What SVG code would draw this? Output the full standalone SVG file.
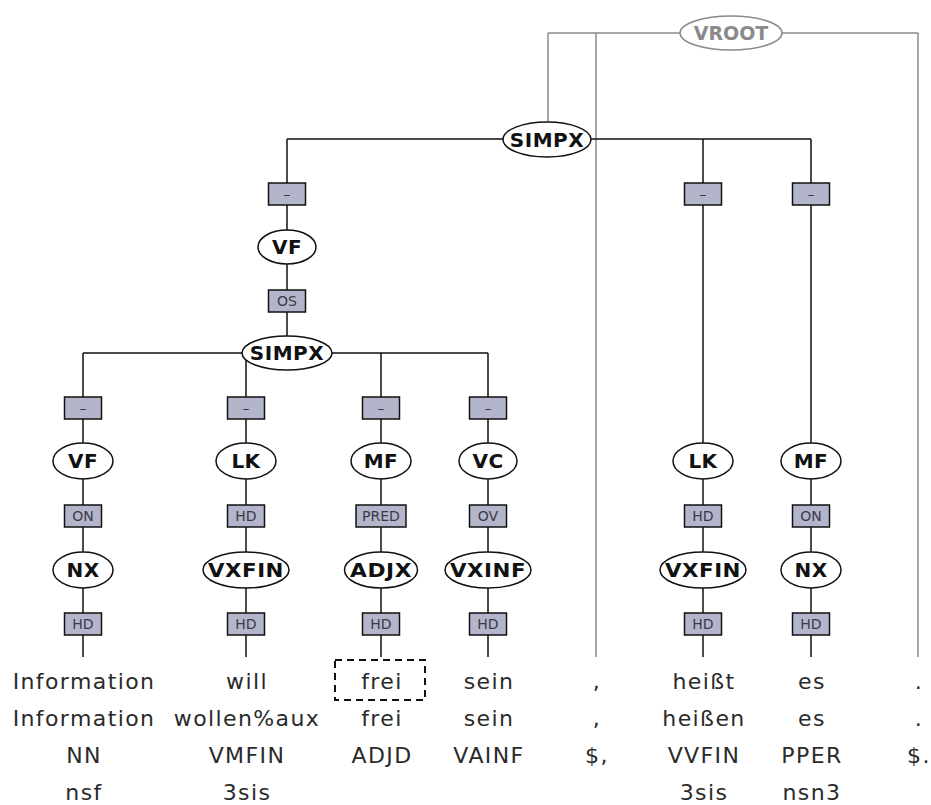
<svg xmlns="http://www.w3.org/2000/svg" width="931" height="805" viewBox="0 0 931 805">
  <style>
    .edge { stroke: #111; stroke-width: 1.5; fill: none; }
    .vedge { stroke: #8a8a8a; stroke-width: 1.5; fill: none; }
    .node ellipse { fill: #fff; stroke: #111; stroke-width: 1.5; }
    .node text { font-family: "DejaVu Sans", sans-serif; font-weight: bold; font-size: 20px; letter-spacing: 0.5px; fill: #111; text-anchor: middle; }
    .vroot ellipse { fill: #fff; stroke: #8a8a8a; stroke-width: 1.5; }
    .vroot text { font-family: "DejaVu Sans", sans-serif; font-weight: bold; font-size: 19px; fill: #8a8a8a; text-anchor: middle; }
    .lab rect { fill: #b3b5cb; stroke: #111; stroke-width: 1.5; }
    .lab text { font-family: "DejaVu Sans", sans-serif; font-size: 14px; fill: #3a3a48; text-anchor: middle; }
    .term text { font-family: "DejaVu Sans", sans-serif; font-size: 22px; letter-spacing: 1.4px; fill: #2a2a2a; text-anchor: middle; }
  </style>
  <rect width="931" height="805" fill="#fff"/>

  <!-- connectors -->
  <g id="connectors">
    <!-- virtual root -->
    <path class="vedge" d="M548 33 H918 M548 33 V122 M596 33 V657 M918 33 V657"/>
    <!-- main clause -->
    <path class="edge" d="M287 139 H811 M287 139 V353 M703 139 V657 M811 139 V657"/>
    <!-- embedded clause -->
    <path class="edge" d="M83 353 H488 M83 353 V657 M246 353 V657 M381 353 V657 M488 353 V657"/>
  </g>

  <!-- edge labels -->
  <g id="edge-labels">
    <g class="lab"><rect x="268.5" y="183" width="37" height="22"/><text x="287" y="199">–</text></g>
    <g class="lab"><rect x="684.5" y="183" width="37" height="22"/><text x="703" y="199">–</text></g>
    <g class="lab"><rect x="792.5" y="183" width="37" height="22"/><text x="811" y="199">–</text></g>
    <g class="lab"><rect x="268.5" y="290" width="37" height="22"/><text x="287" y="306">OS</text></g>

    <g class="lab"><rect x="64.5" y="397" width="37" height="22"/><text x="83" y="413">–</text></g>
    <g class="lab"><rect x="227.5" y="397" width="37" height="22"/><text x="246" y="413">–</text></g>
    <g class="lab"><rect x="362.5" y="397" width="37" height="22"/><text x="381" y="413">–</text></g>
    <g class="lab"><rect x="469.5" y="397" width="37" height="22"/><text x="488" y="413">–</text></g>

    <g class="lab"><rect x="64.5" y="505" width="37" height="22"/><text x="83" y="521">ON</text></g>
    <g class="lab"><rect x="227.5" y="505" width="37" height="22"/><text x="246" y="521">HD</text></g>
    <g class="lab"><rect x="356" y="505" width="50" height="22"/><text x="381" y="521">PRED</text></g>
    <g class="lab"><rect x="469.5" y="505" width="37" height="22"/><text x="488" y="521">OV</text></g>
    <g class="lab"><rect x="684.5" y="505" width="37" height="22"/><text x="703" y="521">HD</text></g>
    <g class="lab"><rect x="792.5" y="505" width="37" height="22"/><text x="811" y="521">ON</text></g>

    <g class="lab"><rect x="64.5" y="613" width="37" height="22"/><text x="83" y="629">HD</text></g>
    <g class="lab"><rect x="227.5" y="613" width="37" height="22"/><text x="246" y="629">HD</text></g>
    <g class="lab"><rect x="362.5" y="613" width="37" height="22"/><text x="381" y="629">HD</text></g>
    <g class="lab"><rect x="469.5" y="613" width="37" height="22"/><text x="488" y="629">HD</text></g>
    <g class="lab"><rect x="684.5" y="613" width="37" height="22"/><text x="703" y="629">HD</text></g>
    <g class="lab"><rect x="792.5" y="613" width="37" height="22"/><text x="811" y="629">HD</text></g>
  </g>

  <!-- nodes -->
  <g id="n-vroot" class="vroot"><ellipse cx="731" cy="33" rx="51" ry="17"/><text x="731" y="40">VROOT</text></g>
  <g id="n-simpx1" class="node"><ellipse cx="547" cy="139.5" rx="44" ry="17.5"/><text x="547" y="147">SIMPX</text></g>
  <g id="n-vf1" class="node"><ellipse cx="287" cy="247" rx="29" ry="17"/><text x="287" y="254">VF</text></g>
  <g id="n-simpx2" class="node"><ellipse cx="287" cy="353" rx="45" ry="17"/><text x="287" y="360">SIMPX</text></g>

  <g id="n-vf2" class="node"><ellipse cx="83" cy="461" rx="30" ry="18"/><text x="83" y="468">VF</text></g>
  <g id="n-lk1" class="node"><ellipse cx="246" cy="461" rx="30" ry="18"/><text x="246" y="468">LK</text></g>
  <g id="n-mf1" class="node"><ellipse cx="381" cy="461" rx="30" ry="18"/><text x="381" y="468">MF</text></g>
  <g id="n-vc" class="node"><ellipse cx="488" cy="461" rx="29" ry="18"/><text x="488" y="468">VC</text></g>
  <g id="n-lk2" class="node"><ellipse cx="703" cy="461" rx="30" ry="18"/><text x="703" y="468">LK</text></g>
  <g id="n-mf2" class="node"><ellipse cx="811" cy="461" rx="30" ry="18"/><text x="811" y="468">MF</text></g>

  <g id="n-nx1" class="node"><ellipse cx="83" cy="570" rx="30" ry="18"/><text x="83" y="577">NX</text></g>
  <g id="n-vxfin1" class="node"><ellipse cx="246" cy="570" rx="43" ry="18"/><text x="246" y="577" textLength="76" lengthAdjust="spacingAndGlyphs">VXFIN</text></g>
  <g id="n-adjx" class="node"><ellipse cx="381" cy="570" rx="36.5" ry="18"/><text x="381" y="577" textLength="62" lengthAdjust="spacingAndGlyphs">ADJX</text></g>
  <g id="n-vxinf" class="node"><ellipse cx="488" cy="570" rx="43" ry="18"/><text x="488" y="577" textLength="76" lengthAdjust="spacingAndGlyphs">VXINF</text></g>
  <g id="n-vxfin2" class="node"><ellipse cx="703" cy="570" rx="43" ry="18"/><text x="703" y="577" textLength="76" lengthAdjust="spacingAndGlyphs">VXFIN</text></g>
  <g id="n-nx2" class="node"><ellipse cx="811" cy="570" rx="30" ry="18"/><text x="811" y="577">NX</text></g>

  <!-- terminals: word / lemma / POS / morphology -->
  <g id="terminals" class="term">
    <text x="84" y="689">Information</text>
    <text x="84" y="726">Information</text>
    <text x="84" y="763">NN</text>
    <text x="84" y="800">nsf</text>

    <text x="247" y="689">will</text>
    <text x="247" y="726">wollen%aux</text>
    <text x="247" y="763">VMFIN</text>
    <text x="247" y="800">3sis</text>

    <text x="382" y="689">frei</text>
    <text x="382" y="726">frei</text>
    <text x="382" y="763">ADJD</text>

    <text x="489" y="689">sein</text>
    <text x="489" y="726">sein</text>
    <text x="489" y="763">VAINF</text>

    <text x="597" y="689">,</text>
    <text x="597" y="726">,</text>
    <text x="597" y="763">$,</text>

    <text x="704" y="689">heißt</text>
    <text x="704" y="726">heißen</text>
    <text x="704" y="763">VVFIN</text>
    <text x="704" y="800">3sis</text>

    <text x="812" y="689">es</text>
    <text x="812" y="726">es</text>
    <text x="812" y="763">PPER</text>
    <text x="812" y="800">nsn3</text>

    <text x="919" y="689">.</text>
    <text x="919" y="726">.</text>
    <text x="919" y="763">$.</text>
  </g>

  <!-- highlighted token -->
  <rect id="focus" x="335" y="660" width="90" height="40" fill="none" stroke="#111" stroke-width="2" stroke-dasharray="7 5"/>
</svg>
